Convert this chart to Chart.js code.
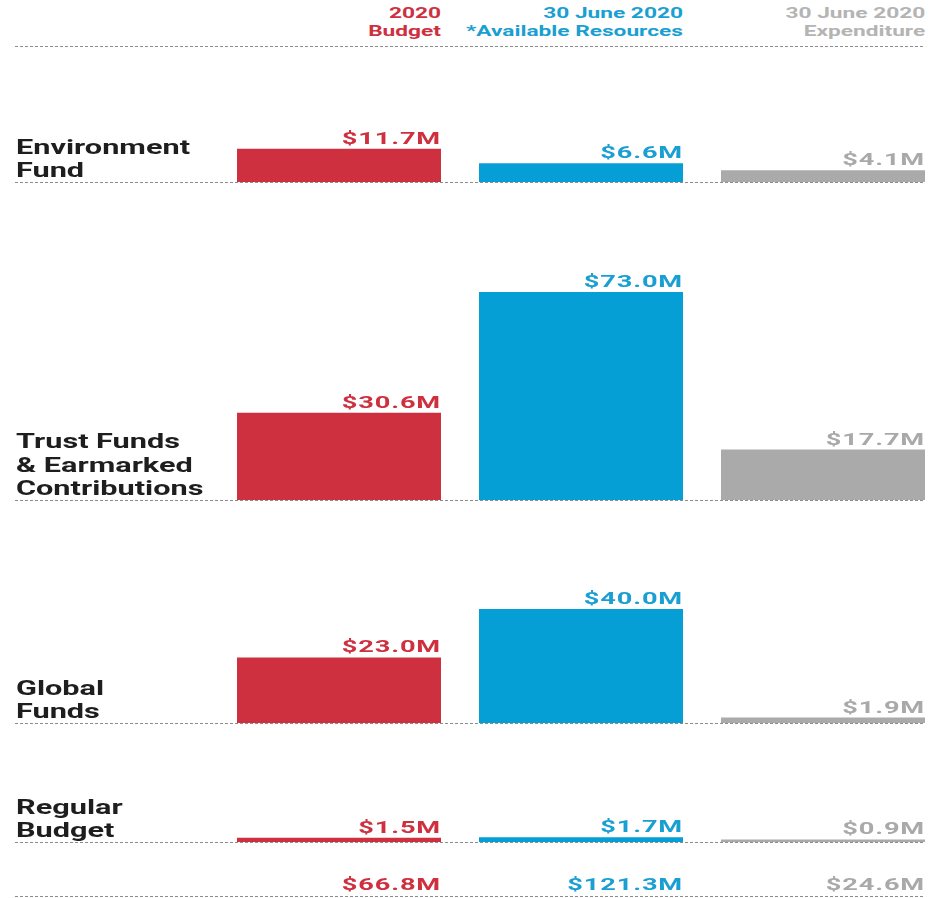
<!DOCTYPE html>
<html>
<head>
<meta charset="utf-8">
<title>Presupuesto 2020</title>
<script src="https://cdn.jsdelivr.net/npm/chart.js@4"></script>
<style>
    html, body { margin: 0; overflow: hidden; }
    body { width: 929px; height: 898px; position: relative; background: #fff; font-family: Roboto, sans-serif; }
    .encabezado {
        position: absolute; top: 4px; font-weight: 700; font-size: 14px; line-height: 18px;
        text-align: right; white-space: nowrap; transform: scaleX(1.62); transform-origin: right top;
    }
    .linea {
        position: absolute; left: 15px; width: 910px; height: 1px;
        background: repeating-linear-gradient(to right, #8c8c8c 0 3px, transparent 3px 5px);
    }
    canvas { position: absolute; left: 0; }
</style>
</head>
<body>
<div id="cabecera"></div>
<div class="linea" style="top:46px"></div>

<script>
// Datos (millones de USD)
const filas = [
    ['Environment', 'Fund'],
    ['Trust Funds', '& Earmarked', 'Contributions'],
    ['Global', 'Funds'],
    ['Regular', 'Budget']
];
const presupuesto = [11.7, 30.6, 23.0, 1.5];
const recursos = [6.6, 73.0, 40.0, 1.7];
const gasto = [4.1, 17.7, 1.9, 0.9];
const encabezados = [
    ['2020', 'Budget'],
    ['30 June 2020', '*Available Resources'],
    ['30 June 2020', 'Expenditure']
];

const coloresBarra = ['#cf303f', '#069fd5', '#aaaaaa'];
const coloresTexto = ['#cf303f', '#1a9fd2', '#a9a9a9'];
const coloresCabecera = ['#cf303f', '#1a9fd2', '#b4b4b4'];
const PX_POR_M = 2.85;

// posición vertical de cada fila: borde superior del canvas y línea base
const ubicaciones = [
    { top: 100, base: 182 },
    { top: 240, base: 500 },
    { top: 560, base: 723 },
    { top: 780, base: 842 }
];

// Cabecera de columnas
const bordesDerechos = [441, 683, 925];
const cabecera = document.getElementById('cabecera');
encabezados.forEach((lineas, i) => {
    const div = document.createElement('div');
    div.className = 'encabezado';
    div.style.right = (929 - bordesDerechos[i]) + 'px';
    div.style.color = coloresCabecera[i];
    div.innerHTML = lineas.join('<br>');
    cabecera.appendChild(div);
});

function formato(v) {
    return '$' + v.toFixed(1) + 'M';
}

// Texto estirado horizontalmente
function texto(ctx, str, x, y, escala, align) {
    ctx.save();
    ctx.translate(x, y);
    ctx.scale(escala, 1);
    ctx.textAlign = align;
    ctx.fillText(str, 0, 0);
    ctx.restore();
}

function lineaPunteada(ctx, y) {
    ctx.save();
    ctx.strokeStyle = '#8c8c8c';
    ctx.lineWidth = 1;
    ctx.setLineDash([3, 2]);
    ctx.beginPath();
    ctx.moveTo(15, y + 0.5);
    ctx.lineTo(925, y + 0.5);
    ctx.stroke();
    ctx.restore();
}

function fuenteValor(ctx) {
    ctx.font = 'bold 16px Roboto';
    ctx.letterSpacing = '0.5px';
}

const pluginFila = {
    id: 'pluginFila',
    beforeDatasetsDraw(chart) {
        lineaPunteada(chart.ctx, Math.round(chart.scales.y.getPixelForValue(0)));
    },
    afterDatasetsDraw(chart, args, opts) {
        const ctx = chart.ctx;
        const base = chart.scales.y.getPixelForValue(0);
        const barras = chart.getDatasetMeta(0).data;
        const valores = chart.data.datasets[0].data;

        // etiquetas de valor sobre cada barra
        ctx.save();
        fuenteValor(ctx);
        ctx.textBaseline = 'alphabetic';
        barras.forEach((barra, j) => {
            ctx.fillStyle = coloresTexto[j];
            texto(ctx, formato(valores[j]), barra.x + barra.width / 2, barra.y - 5, 1.7, 'right');
        });
        ctx.restore();

        // nombre de la fila
        const lineas = filas[opts.fila];
        ctx.font = 'bold 21px Roboto';
        ctx.fillStyle = '#1e1e1e';
        lineas.forEach((l, k) => {
            const y = base - 5 - (lineas.length - 1 - k) * 23.5;
            texto(ctx, l, 16, y, 1.46, 'left');
        });

        // totales debajo de la última fila
        if (opts.totales) {
            const totales = [presupuesto, recursos, gasto].map(s => s.reduce((a, b) => a + b, 0));
            ctx.save();
            fuenteValor(ctx);
            barras.forEach((barra, j) => {
                ctx.fillStyle = coloresTexto[j];
                texto(ctx, formato(totales[j]), barra.x + barra.width / 2, base + 48, 1.7, 'right');
            });
            ctx.restore();
            lineaPunteada(ctx, base + 54);
        }
    }
};

function crearFila(i) {
    const u = ubicaciones[i];
    const ultima = i === filas.length - 1;
    const alto = (ultima ? 898 : u.base + 3) - u.top;
    const canvas = document.createElement('canvas');
    canvas.width = 950;
    canvas.height = alto;
    canvas.style.top = u.top + 'px';
    document.body.appendChild(canvas);

    new Chart(canvas.getContext('2d'), {
        type: 'bar',
        data: {
            labels: ['Budget', 'Available Resources', 'Expenditure'],
            datasets: [{
                data: [presupuesto[i], recursos[i], gasto[i]],
                backgroundColor: coloresBarra,
                categoryPercentage: 1,
                barPercentage: 204 / 242
            }]
        },
        options: {
            responsive: false,
            animation: false,
            layout: { padding: { left: 218, right: 6, top: 0, bottom: u.top + alto - u.base } },
            plugins: {
                legend: { display: false },
                tooltip: { enabled: false },
                pluginFila: { fila: i, totales: ultima }
            },
            scales: {
                x: { display: false },
                y: { display: false, min: 0, max: (u.base - u.top) / PX_POR_M }
            }
        },
        plugins: [pluginFila]
    });
}

document.fonts.load('bold 16px Roboto').then(() => {
    filas.forEach((_, i) => crearFila(i));
});
</script>
</body>
</html>
